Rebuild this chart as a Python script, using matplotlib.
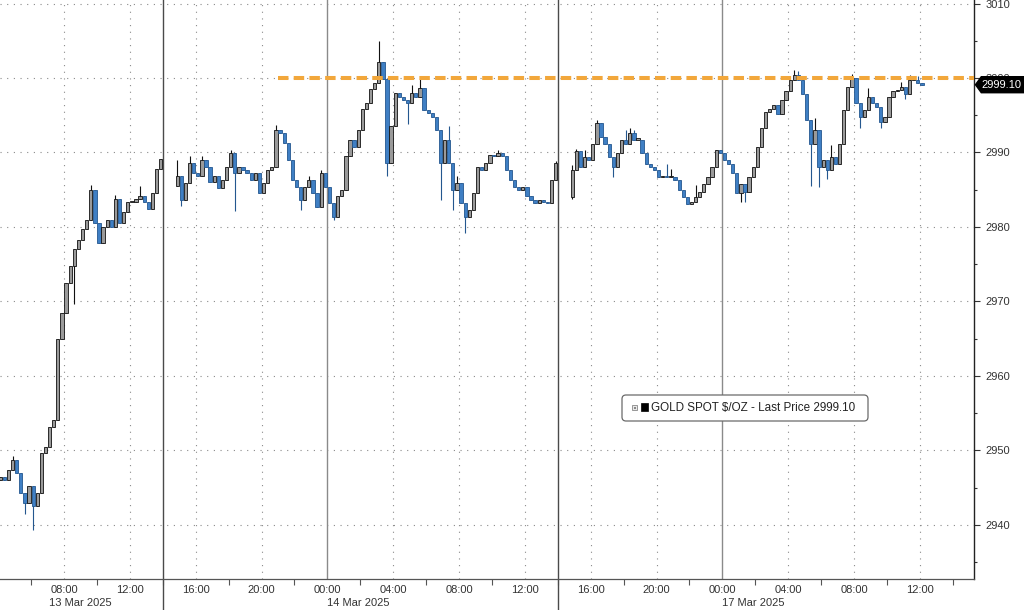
import numpy as np
import pandas as pd
import matplotlib
matplotlib.use("Agg")
import matplotlib.pyplot as plt
from matplotlib.patches import FancyBboxPatch, Polygon, Rectangle
import matplotlib.transforms as mtrans

plt.rcParams['font.family'] = ['Liberation Sans', 'DejaVu Sans']

# ---------------- data (15-minute bars) ----------------
seg_a_start = '2025-03-13 04:00'
seg_a_first_open = 2946.0
seg_a_close = [2946.5, 2946.0, 2947.4, 2948.7, 2947.0, 2944.3, 2943.0, 2945.2, 2942.5, 2944.3,
               2949.6, 2950.5, 2953.2, 2954.1, 2964.9, 2968.5, 2972.5, 2974.8, 2977.0, 2978.3,
               2979.7, 2981.0, 2985.0, 2980.6, 2977.9, 2980.0, 2981.0, 2980.0, 2983.7, 2980.6,
               2982.0, 2983.3, 2983.3, 2983.7, 2984.2, 2983.3, 2982.4, 2984.6, 2987.8, 2989.1]
seg_a_high = {3: 2949.3, 22: 2985.6, 28: 2984.3, 34: 2985.5}
seg_a_low = {6: 2941.5, 8: 2939.3, 18: 2969.6}

seg_b_start = '2025-03-13 14:45'
seg_b_first_open = 2985.5
seg_b_close = [2986.8, 2983.6, 2985.9, 2988.6, 2987.2, 2986.8, 2989.0, 2988.1, 2986.1, 2986.8,
               2985.2, 2986.3, 2988.1, 2989.9, 2987.2, 2988.1, 2987.7, 2987.2, 2986.3, 2987.2,
               2984.5, 2985.9, 2987.7, 2988.1, 2993.0, 2992.6, 2991.3, 2989.0, 2986.3, 2985.4,
               2983.6, 2985.4, 2986.3, 2984.5, 2982.7, 2987.2, 2985.4, 2983.2, 2981.4, 2984.1,
               2985.0, 2989.5, 2991.7, 2990.8, 2993.0, 2995.8, 2996.6, 2998.5, 2999.3, 3002.2,
               2999.8, 2988.6, 2993.5, 2998.0, 2997.5, 2997.1, 2996.6, 2998.0, 2997.5, 2998.7,
               2995.7, 2995.3, 2994.8, 2993.0, 2988.6, 2991.7, 2988.6, 2985.0, 2985.9, 2983.2,
               2981.4, 2982.3, 2984.5, 2988.1, 2987.7, 2988.6, 2989.7, 2989.5, 2989.9, 2989.5,
               2987.7, 2986.3, 2985.4, 2985.0, 2985.4, 2984.1, 2983.6, 2983.2, 2983.6, 2983.4,
               2983.2, 2986.3, 2988.6]
seg_b_high = {0: 2989.0, 3: 2989.5, 6: 2989.5, 13: 2990.4, 24: 2993.7, 32: 2986.8, 35: 2987.6,
              49: 3004.9, 57: 2999.1, 59: 2999.8, 62: 2995.3, 66: 2993.5, 68: 2986.8, 78: 2990.4,
              92: 2988.8}
seg_b_low = {1: 2982.8, 14: 2982.1, 30: 2982.3, 38: 2981.0, 51: 2986.8, 56: 2993.8, 64: 2983.6,
             67: 2982.3, 70: 2979.2}

seg_c_start = '2025-03-14 14:45'
seg_c_first_open = 2984.0
seg_c_close = [2987.6, 2990.2, 2988.1, 2989.4, 2989.0, 2991.2, 2993.9, 2992.1, 2991.2, 2989.4,
               2988.1, 2989.9, 2991.7, 2991.2, 2992.6, 2991.7, 2991.7, 2989.9, 2988.5, 2988.1,
               2987.6, 2986.7, 2986.9, 2986.7, 2986.7, 2986.3, 2984.9, 2984.0, 2983.1, 2983.4,
               2984.0, 2984.7, 2985.8, 2986.7, 2988.1, 2990.3, 2989.9, 2989.0, 2988.5, 2987.2,
               2984.5, 2985.8, 2984.7, 2986.7, 2988.1, 2990.8, 2993.3, 2995.5, 2995.8, 2996.4,
               2995.2, 2997.0, 2998.2, 2999.7, 3000.4, 2999.7, 2997.9, 2994.3, 2991.2, 2993.0,
               2988.1, 2989.0, 2987.6, 2989.4, 2988.5, 2991.2, 2995.7, 2998.8, 3000.0, 2996.6,
               2994.8, 2995.7, 2997.5, 2996.6, 2996.1, 2994.1, 2994.8, 2997.5, 2998.2, 2998.4,
               2998.8, 2997.9, 2999.7, 2999.7, 2999.3, 2999.1]
seg_c_high = {0: 2988.3, 1: 2990.5, 3: 2990.4, 6: 2994.3, 13: 2993.0, 14: 2993.3, 15: 2993.0,
              23: 2988.5, 24: 2987.8, 30: 2985.6, 54: 3001.1, 55: 3000.9, 59: 2994.6, 63: 2991.0,
              68: 3000.5, 72: 2998.6, 80: 2999.5, 82: 3000.4, 84: 3000.3}
seg_c_low = {0: 2983.7, 10: 2986.7, 41: 2983.4, 42: 2983.4, 58: 2985.5, 60: 2985.4, 62: 2986.5,
             70: 2993.3, 75: 2993.3, 81: 2997.2}

last_price = 2999.10
resistance_level = 3000
resistance_start = '2025-03-13 21:00'
legend_text = 'GOLD SPOT $/OZ - Last Price 2999.10'
y_ticks = [2940, 2950, 2960, 2970, 2980, 2990, 3000, 3010]
date_labels = ['13 Mar 2025', '14 Mar 2025', '17 Mar 2025']

# ---------------- helpers ----------------
T0 = pd.Timestamp('2025-03-13 00:00')
MONDAY = pd.Timestamp('2025-03-17 00:00')


def to_x(t):
    t = pd.DatetimeIndex(np.atleast_1d(pd.to_datetime(t)))
    h = np.asarray((t - T0) / pd.Timedelta(hours=1), dtype=float)
    return np.where(t >= MONDAY, h - 48.0, h)


def build(start, first_open, closes, highs, lows):
    t = pd.date_range(start, periods=len(closes), freq='15min')
    c = np.array(closes, dtype=float)
    o = np.concatenate([[first_open], c[:-1]])
    hi = np.maximum(o, c)
    lo = np.minimum(o, c)
    for k, v in highs.items():
        hi[k] = max(hi[k], v)
    for k, v in lows.items():
        lo[k] = min(lo[k], v)
    return to_x(t) + 0.125, o, hi, lo, c


fig = plt.figure(figsize=(10.24, 6.10), dpi=100)
ax = fig.add_axes([0.0, 1 - 579 / 610, 974 / 1024, 579 / 610])

XMIN, XMAX = 4.11, 63.29
YMIN, YMAX = 2932.75, 3010.47
ax.set_xlim(XMIN, XMAX)
ax.set_ylim(YMIN, YMAX)

UP_FACE, UP_EDGE = '#9a9a9a', '#111111'
DN_FACE, DN_EDGE = '#3f7fc4', '#24578f'

for seg in [(seg_a_start, seg_a_first_open, seg_a_close, seg_a_high, seg_a_low),
            (seg_b_start, seg_b_first_open, seg_b_close, seg_b_high, seg_b_low),
            (seg_c_start, seg_c_first_open, seg_c_close, seg_c_high, seg_c_low)]:
    x, o, hi, lo, c = build(*seg)
    up = c >= o
    edges = np.where(up, UP_EDGE, DN_EDGE)
    faces = np.where(up, UP_FACE, DN_FACE)
    ax.vlines(x, lo, hi, colors=edges, linewidth=0.8, zorder=3)
    ax.bar(x, np.maximum(np.abs(c - o), 0.2), bottom=np.minimum(o, c), width=0.2,
           color=faces, edgecolor=edges, linewidth=0.6, zorder=4)

# resistance line
ax.plot([to_x(resistance_start)[0], XMAX], [resistance_level, resistance_level],
        color='#F2A73B', lw=2.9, dashes=(2.6, 1.3), solid_capstyle='butt', zorder=5)

# ---------------- axes styling ----------------
major_x = np.arange(8, 64, 4)
minor_x = np.arange(6, 64, 4)
ax.set_xticks(major_x)
ax.set_xticklabels([f'{int(h) % 24:02d}:00' for h in major_x])
ax.set_xticks(minor_x, minor=True)
ax.tick_params(axis='x', which='major', length=0, pad=4, labelsize=8, labelcolor='#333333')
ax.tick_params(axis='x', which='minor', length=4, width=0.8, color='#555555', direction='out')

ax.yaxis.tick_right()
ax.set_yticks(y_ticks)
ax.set_yticks(np.arange(2935, 3011, 10), minor=True)
ax.tick_params(axis='y', which='major', length=4, width=0.8, pad=4, labelsize=8,
               labelcolor='#333333', color='#333333')
ax.tick_params(axis='y', which='minor', length=2, width=0.8, color='#333333')

for s in ['left', 'top']:
    ax.spines[s].set_visible(False)
ax.spines['bottom'].set_color('#555555')
ax.spines['bottom'].set_linewidth(0.9)
ax.spines['right'].set_color('#222222')
ax.spines['right'].set_linewidth(1.0)

dot = (0, (1.0, 5.0))
for yv in y_ticks:
    ax.axhline(yv, color='#8a8a8a', lw=0.8, ls=dot, zorder=1)
for h in major_x:
    if h % 24 == 0:
        ax.axvline(h, color='#8a8a8a', lw=1.0, zorder=1)
    else:
        ax.axvline(h, color='#8a8a8a', lw=0.8, ls=dot, zorder=1)

# session separators (extend below the axis)
for h in [14, 38]:
    ax.axvline(h, ymin=-0.06, ymax=1, color='#4a4a4a', lw=1.0, zorder=2, clip_on=False)

# date labels
tb = mtrans.blended_transform_factory(ax.transData, ax.transAxes)
for xpos, lab in zip([7.1, 24.0, 48.0], date_labels):
    ax.text(xpos, -0.0415, lab, transform=tb, ha='left', va='center', fontsize=8,
            color='#333333')

# last price tag
tr = mtrans.blended_transform_factory(ax.transAxes, ax.transData)
dy = 8 / 7.445
tag = Polygon([[1.0015, last_price], [1.0075, last_price + dy], [1.052, last_price + dy],
               [1.052, last_price - dy], [1.0075, last_price - dy]], closed=True,
              transform=tr, facecolor='black', edgecolor='black', clip_on=False, zorder=20)
ax.add_patch(tag)
ax.text(1.0285, last_price, f'{last_price:.2f}', transform=tr, ha='center', va='center',
        fontsize=8, color='white', clip_on=False, zorder=21)

# legend box
box = FancyBboxPatch((6.22, (610 - 421) / 100), 2.46, 0.26,
                     boxstyle='round,pad=0,rounding_size=0.04',
                     transform=fig.dpi_scale_trans, facecolor='white', edgecolor='#6a6a6a',
                     linewidth=0.9, zorder=30)
fig.add_artist(box)
fig.add_artist(Rectangle((6.32, (610 - 410) / 100), 0.05, 0.05, transform=fig.dpi_scale_trans,
                         facecolor='#e8e8e8', edgecolor='#888888', linewidth=0.6, zorder=31))
fig.add_artist(Rectangle((6.335, (610 - 408.5) / 100), 0.02, 0.02, transform=fig.dpi_scale_trans,
                         facecolor='#888888', edgecolor='none', zorder=32))
fig.add_artist(Rectangle((6.41, (610 - 411) / 100), 0.07, 0.08, transform=fig.dpi_scale_trans,
                         facecolor='black', edgecolor='black', linewidth=0.5, zorder=31))
fig.text(6.51 / 10.24, (610 - 408) / 610, legend_text, ha='left', va='center', fontsize=8.4,
         color='#222222', zorder=32)

fig.savefig('out.png', dpi=100, facecolor='white')
